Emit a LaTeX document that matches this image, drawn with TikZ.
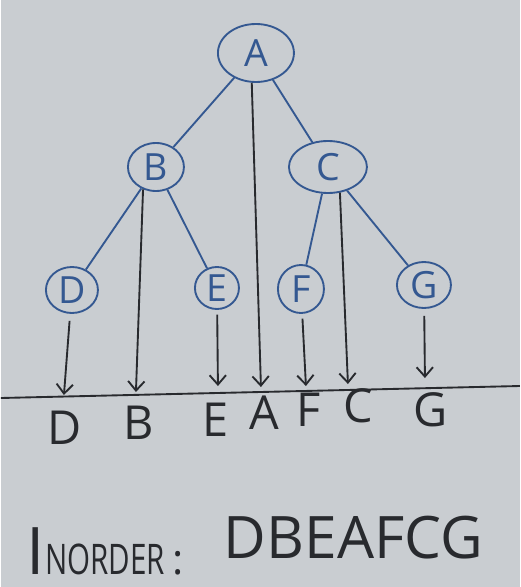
\documentclass[tikz,border=0pt]{standalone}
\usepackage{fontspec}
\setmainfont{Open Sans}
\usetikzlibrary{arrows.meta, shapes.geometric}
\definecolor{paper}{RGB}{201,205,209}
\definecolor{ink}{RGB}{40,42,46}
\definecolor{pen}{RGB}{52,88,145}

\begin{document}
\begin{tikzpicture}[x=0.015cm, y=-0.015cm, line width=0.8pt,
  tnode/.style={ellipse, draw=pen, text=pen, inner sep=0pt, font=\fontsize{16}{16}\selectfont},
  tedge/.style={draw=pen},
  walk/.style={draw=ink, -{Straight Barb[length=4pt,width=7pt]}},
  seq/.style={text=ink, inner sep=0pt, font=\fontsize{20}{20}\selectfont}]
  \fill[paper] (0,0) rectangle (519,587);

  % binary tree
  \node[tnode, minimum width=1.14cm, minimum height=0.87cm] (nA) at (255,53)  {A};
  \node[tnode, minimum width=0.84cm, minimum height=0.72cm] (nB) at (155,167) {B};
  \node[tnode, minimum width=1.17cm, minimum height=0.78cm] (nC) at (327,167) {C};
  \node[tnode, minimum width=0.78cm, minimum height=0.69cm] (nD) at (71,290)  {D};
  \node[tnode, minimum width=0.66cm, minimum height=0.63cm] (nE) at (216,288) {E};
  \node[tnode, minimum width=0.69cm, minimum height=0.72cm] (nF) at (300,289) {F};
  \node[tnode, minimum width=0.81cm, minimum height=0.69cm] (nG) at (423,285) {G};
  \draw[tedge] (nA) -- (nB);
  \draw[tedge] (nA) -- (nC);
  \draw[tedge] (nB) -- (nD);
  \draw[tedge] (nB) -- (nE);
  \draw[tedge] (nC) -- (nF);
  \draw[tedge] (nC) -- (nG);

  % projection line
  \coordinate (left)  at (0,398);
  \coordinate (right) at (519,386);
  \draw[ink] (left) -- (right);
  \coordinate (pD) at (63,395);
  \coordinate (pB) at (135,392);
  \coordinate (pE) at (217,386);
  \coordinate (pA) at (260,387);
  \coordinate (pF) at (305,386);
  \coordinate (pC) at (347,384);
  \coordinate (pG) at (424,378);
  \draw[walk, shorten <=3pt] (nD) -- (pD);
  \draw[walk] (nB.240) -- (pB);
  \draw[walk, shorten <=2pt] (nE) -- (pE);
  \draw[walk] (nA.262) -- (pA);
  \draw[walk, shorten <=2pt] (nF) -- (pF);
  \draw[walk] (nC.295) -- (pC);
  \draw[walk, shorten <=3pt] (nG) -- (pG);

  % inorder sequence
  \node[seq] (lD) at (64,428)  {D};
  \node[seq] (lB) at (138,423) {B};
  \node[seq] (lE) at (215,420) {E};
  \node[seq] (lA) at (263,413) {A};
  \node[seq] (lF) at (308,410) {F};
  \node[seq] (lC) at (357,406) {C};
  \node[seq] (lG) at (430,410) {G};

  \node[seq, anchor=base west] (title) at (25,574)
    {{\fontsize{28}{28}\selectfont I}\scalebox{0.7}[1]{\fontsize{18}{18}\selectfont NORDER}\,{\fontsize{18}{18}\selectfont:}};
  \node[seq, anchor=base west, font=\fontsize{25}{25}\selectfont] (order) at (222,558) {DBEAFCG};
\end{tikzpicture}
\end{document}
